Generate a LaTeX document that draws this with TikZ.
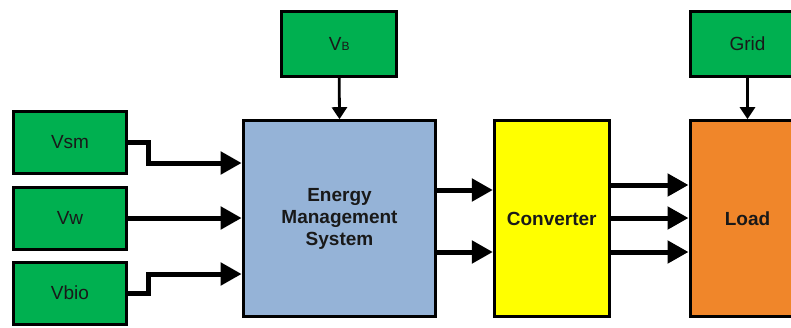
\documentclass[tikz,border=0pt]{standalone}
\usepackage{fontspec}
\setmainfont{Liberation Sans}
\usetikzlibrary{arrows.meta}
\definecolor{srcgreen}{RGB}{0,176,80}
\definecolor{emsblue}{RGB}{149,179,215}
\definecolor{convyellow}{RGB}{255,255,0}
\definecolor{loadorange}{RGB}{240,134,42}
\definecolor{txt}{RGB}{25,25,25}
\begin{document}
\begin{tikzpicture}[x=1pt,y=-1pt,
  blk/.style={draw=black, line width=3pt, rectangle, inner sep=0pt, text=txt,
    font=\fontsize{19}{22}\selectfont, align=center},
  src/.style={blk, fill=srcgreen, minimum width=113.5pt, minimum height=62pt},
  topsrc/.style={blk, fill=srcgreen, minimum width=115pt, minimum height=65pt},
  big/.style={blk, minimum height=196pt, font=\fontsize{19}{22}\selectfont\bfseries},
  fat/.style={line width=5pt, -{Triangle[length=21pt,width=22pt]}},
  thin/.style={line width=2.8pt, -{Triangle[length=12pt,width=15pt]}}
]
\useasboundingbox (0,0) rectangle (791,327);
\clip (0,0) rectangle (791,327);

\node[src] (vsm) at (70,142) {Vsm};
\node[src] (vw) at (70,218.4) {Vw};
\node[src] (vbio) at (70,293) {Vbio};
\node[big, fill=emsblue, minimum width=192.7pt] (ems) at (339.5,218.7) {Energy\\Management\\System};
\node[topsrc] (vb) at (339.2,44.2) {V{\fontsize{12}{12}\selectfont B}};
\node[big, fill=convyellow, minimum width=114.7pt] (conv) at (551.7,218.7) {Converter};
\node[big, fill=loadorange, minimum width=115pt] (load) at (747.5,218.7) {Load};
\node[topsrc] (grid) at (747.5,44.2) {Grid};

\draw[fat] (vsm.east |- 0,142) -- (148,142) -- (148,163) -- (ems.west |- 0,163);
\draw[fat] (vw.east |- 0,218) -- (ems.west |- 0,218);
\draw[fat] (vbio.east |- 0,293) -- (148,293) -- (148,274) -- (ems.west |- 0,274);

\draw[fat] (ems.east |- 0,190) -- (conv.west |- 0,190);
\draw[fat] (ems.east |- 0,252) -- (conv.west |- 0,252);

\draw[fat] (conv.east |- 0,185) -- (load.west |- 0,185);
\draw[fat] (conv.east |- 0,218) -- (load.west |- 0,218);
\draw[fat] (conv.east |- 0,252) -- (load.west |- 0,252);

\draw[thin] (vb.south) -- (ems.north);
\draw[thin] (grid.south) -- (load.north);
\end{tikzpicture}
\end{document}
